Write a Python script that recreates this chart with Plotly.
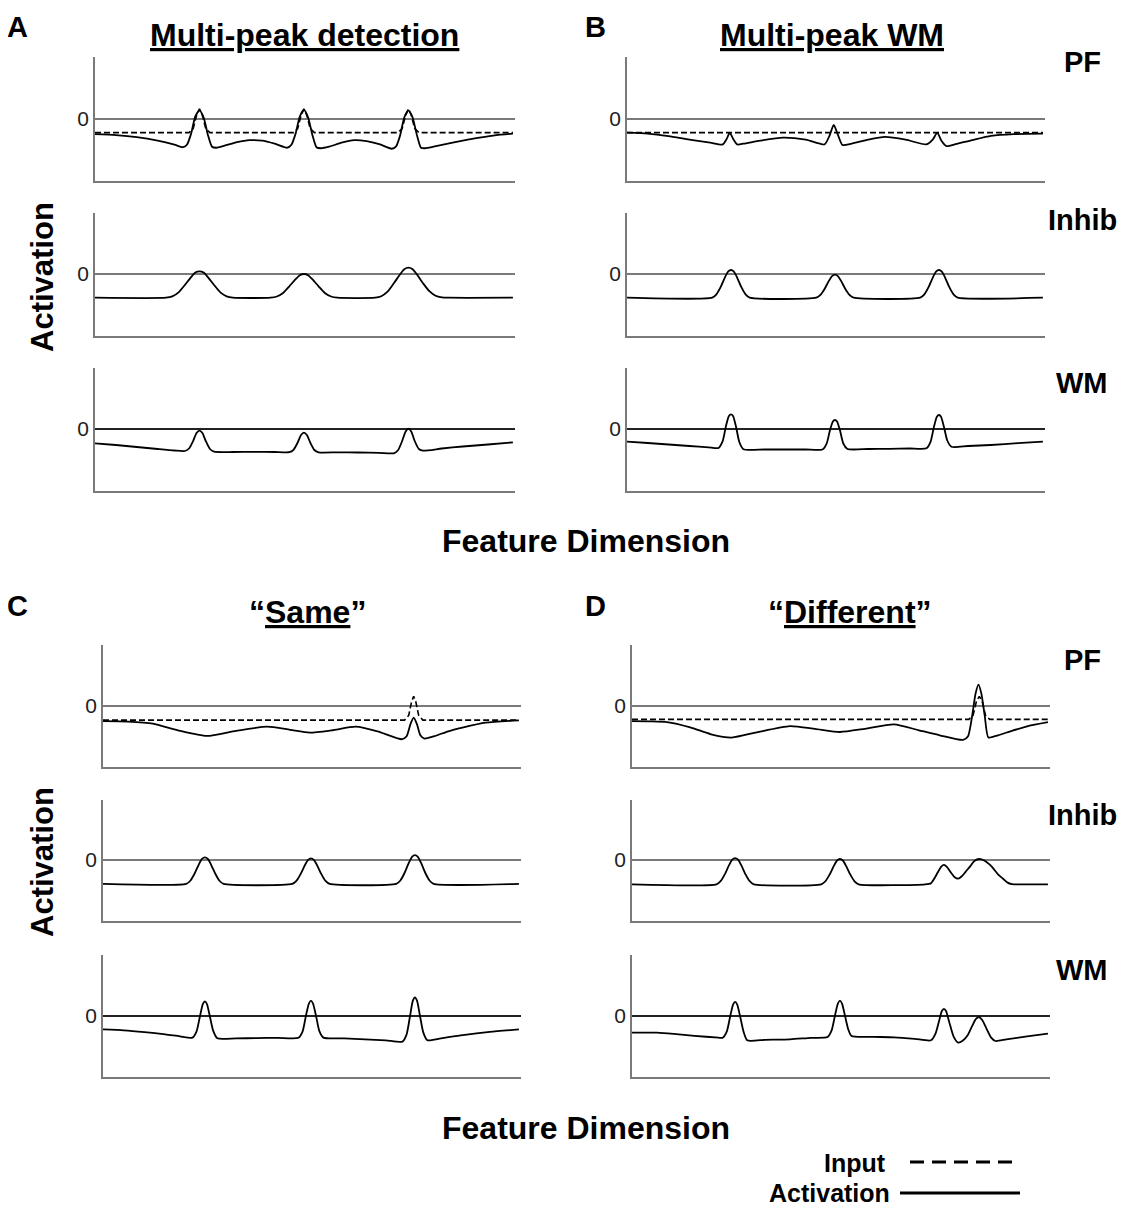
import plotly.graph_objects as go

# ---------------- data (feature dimension 0..100, activation units) ----------------
A_PF_x = [0, 5, 10, 15, 19, 21, 22, 23, 24, 25, 26, 27, 28, 29, 31, 34, 37, 40, 43, 46, 47, 48, 49, 50, 51, 52, 53, 54, 56, 59, 62, 65, 68, 71, 72, 73, 74, 75, 76, 77, 78, 79, 81, 85, 88, 92, 96, 100]
A_PF_act = [-1.55, -1.65, -1.85, -2.2, -2.6, -2.85, -2.6, -1.5, 0.2, 0.8, 0.1, -1.6, -2.8, -2.9, -2.7, -2.35, -2.15, -2.2, -2.5, -2.9, -2.6, -1.5, 0.2, 0.85, 0.1, -1.6, -2.85, -2.95, -2.8, -2.4, -2.15, -2.25, -2.55, -3.0, -2.8, -1.7, 0.1, 0.8, 0.1, -1.6, -2.9, -2.95, -2.8, -2.45, -2.2, -1.9, -1.65, -1.5]
A_PF_in_x = [0, 22.5, 23.5, 24.3, 25, 25.7, 26.5, 27.5, 47.5, 48.5, 49.3, 50, 50.7, 51.5, 52.5, 72.5, 73.5, 74.3, 75, 75.7, 76.5, 77.5, 100]
A_PF_in = [-1.4, -1.4, -1.0, 0.3, 0.95, 0.3, -1.0, -1.4, -1.4, -1.0, 0.3, 0.95, 0.3, -1.0, -1.4, -1.4, -1.0, 0.3, 0.95, 0.3, -1.0, -1.4, -1.4]

A_INH_x = [0, 17, 18.5, 20, 21.5, 23, 24, 25, 26, 27, 28.5, 30, 31.5, 33, 42, 43.5, 45, 46.5, 48, 49, 50, 51, 52, 53.5, 55, 56.5, 58, 67, 68.5, 70, 71.5, 73, 74, 75, 76, 77, 78.5, 80, 81.5, 83, 84.5, 100]
A_INH = [-2.37,
         -2.37, -2.24, -1.84, -1.10, -0.31, 0.14, 0.27, 0.14, -0.31, -1.10, -1.84, -2.24, -2.37,
         -2.37, -2.25, -1.90, -1.23, -0.52, -0.12, 0.0, -0.12, -0.52, -1.23, -1.90, -2.25, -2.37,
         -2.37, -2.22, -1.77, -0.93, -0.03, 0.48, 0.63, 0.48, -0.03, -0.93, -1.72, -2.17, -2.33,
         -2.37, -2.37]

A_WM_x = [0, 5, 10, 15, 19, 21.5, 22.5, 23.5, 24.3, 25, 25.7, 26.5, 27.5, 28.5, 33, 38, 43, 46.5, 47.5, 48.5, 49.3, 50, 50.7, 51.5, 52.5, 53.5, 58, 63, 68, 71.5, 72.5, 73.5, 74.3, 75, 75.7, 76.5, 77.5, 78.5, 83, 88, 94, 100]
A_WM = [-1.43, -1.6, -1.8, -2.0, -2.15, -2.2, -1.95, -1.18, -0.4, -0.17, -0.4, -1.2, -2.0, -2.27, -2.3, -2.28, -2.3, -2.32, -2.08, -1.35, -0.6, -0.37, -0.6, -1.35, -2.1, -2.33, -2.33, -2.35, -2.38, -2.43, -2.13, -1.2, -0.27, 0.03, -0.27, -1.2, -2.0, -2.17, -1.95, -1.75, -1.55, -1.33]

B_PF_x = [0, 5, 10, 15, 20, 23, 24, 24.7, 25.5, 26.5, 28, 32, 37.5, 43, 47.5, 48.7, 49.7, 50.7, 51.8, 54, 58, 62, 67, 72, 73.5, 74.6, 75.6, 76.8, 79, 83, 87.5, 93, 100]
B_PF_act = [-1.4, -1.5, -1.75, -2.1, -2.4, -2.57, -2.0, -1.4, -2.0, -2.57, -2.5, -2.2, -1.9, -2.1, -2.57, -1.7, -0.63, -1.6, -2.63, -2.5, -2.1, -1.83, -2.1, -2.57, -2.1, -1.4, -2.2, -2.73, -2.55, -2.15, -1.73, -1.55, -1.5]
B_PF_in_x = [0, 100]
B_PF_in = [-1.4, -1.4]

B_INH_x = [0, 20.5, 21.5, 22.5, 23.5, 24.3, 25, 25.7, 26.5, 27.5, 28.5, 29.5,
           45.5, 46.5, 47.5, 48.5, 49.3, 50, 50.7, 51.5, 52.5, 53.5, 54.5,
           70.5, 71.5, 72.5, 73.5, 74.3, 75, 75.7, 76.5, 77.5, 78.5, 79.5, 100]
B_INH = [-2.37,
         -2.37, -2.04, -1.32, -0.38, 0.23, 0.4, 0.23, -0.38, -1.32, -2.04, -2.37,
         -2.37, -2.09, -1.50, -0.71, -0.21, -0.07, -0.21, -0.71, -1.50, -2.09, -2.37,
         -2.37, -2.04, -1.32, -0.38, 0.23, 0.4, 0.23, -0.38, -1.32, -2.04, -2.37,
         -2.37]

B_WM_x = [0, 5, 10, 15, 19.6, 22, 23, 23.8, 24.5, 25, 25.5, 26.2, 27, 28, 33, 38, 43, 47, 48, 48.8, 49.5, 50, 50.5, 51.2, 52, 53, 58, 63, 68, 72, 73, 73.8, 74.5, 75, 75.5, 76.2, 77, 78, 82, 87.5, 94, 100]
B_WM = [-1.27, -1.4, -1.55, -1.7, -1.83, -1.9, -1.22, 0.3, 1.3, 1.47, 1.3, 0.25, -1.3, -2.03, -2.05, -2.05, -2.05, -2.05, -1.46, -0.13, 0.75, 0.9, 0.75, -0.13, -1.45, -2.0, -2.0, -1.98, -1.95, -1.93, -1.26, 0.22, 1.23, 1.4, 1.23, 0.22, -1.15, -1.77, -1.7, -1.6, -1.42, -1.27]

C_PF_x = [0, 6, 12, 18, 25, 32, 39.5, 45, 49.7, 55, 60.8, 66, 71.9, 73, 73.9, 74.7, 75.5, 76.3, 77.3, 80, 83, 86.4, 92, 100]
C_PF_act = [-1.57, -1.62, -1.83, -2.5, -3.07, -2.55, -2.13, -2.45, -2.73, -2.5, -2.13, -2.6, -3.4, -3.1, -1.9, -1.23, -1.9, -3.0, -3.33, -3.05, -2.6, -2.23, -1.73, -1.5]
C_PF_in_x = [0, 72.5, 73.5, 74.2, 74.7, 75.2, 75.9, 76.9, 100]
C_PF_in = [-1.47, -1.47, -1.0, 0.4, 0.93, 0.4, -1.0, -1.47, -1.47]

C_INH_x = [0, 20, 21, 22, 23, 23.8, 24.5, 25.2, 26, 27, 28, 29,
           45.5, 46.5, 47.5, 48.5, 49.3, 50, 50.7, 51.5, 52.5, 53.5, 54.5,
           70.5, 71.5, 72.5, 73.5, 74.3, 75, 75.7, 76.5, 77.5, 78.5, 79.5, 100]
C_INH = [-2.43,
         -2.43, -2.11, -1.40, -0.49, 0.11, 0.27, 0.11, -0.49, -1.40, -2.11, -2.43,
         -2.43, -2.12, -1.44, -0.56, 0.01, 0.17, 0.01, -0.56, -1.44, -2.12, -2.43,
         -2.43, -2.08, -1.32, -0.32, 0.33, 0.5, 0.33, -0.32, -1.32, -2.08, -2.43,
         -2.43]

C_WM_x = [0, 5, 10, 15, 18.5, 21.5, 22.5, 23.3, 24, 24.5, 25, 25.7, 26.5, 27.5, 32, 37, 42, 47, 48, 48.8, 49.5, 50, 50.5, 51.2, 52, 53, 58, 63, 68, 72, 73, 73.8, 74.5, 75, 75.5, 76.2, 77, 78, 82, 86.5, 93, 100]
C_WM = [-1.4, -1.5, -1.68, -1.9, -2.1, -2.23, -1.6, -0.1, 1.15, 1.43, 1.15, -0.1, -1.55, -2.3, -2.3, -2.28, -2.25, -2.25, -1.6, 0.0, 1.2, 1.5, 1.2, 0.0, -1.55, -2.23, -2.3, -2.4, -2.5, -2.63, -1.9, -0.1, 1.5, 1.83, 1.5, 0.0, -1.7, -2.5, -2.25, -1.97, -1.65, -1.4]

D_PF_x = [0, 4, 8.4, 14, 19, 24, 30, 38, 44, 50, 56, 63, 69, 74, 79.6, 80.8, 81.8, 82.6, 83.3, 84, 84.8, 85.7, 88, 91, 95.2, 100]
D_PF_act = [-1.57, -1.6, -1.67, -2.2, -2.9, -3.23, -2.7, -2.07, -2.35, -2.67, -2.35, -1.9, -2.5, -3.0, -3.47, -3.1, -1.0, 1.2, 2.1, 1.2, -1.0, -3.23, -3.0, -2.6, -2.07, -1.67]
D_PF_in_x = [0, 81, 82, 82.8, 83.5, 84.2, 85, 86, 100]
D_PF_in = [-1.4, -1.4, -1.0, 0.4, 0.93, 0.4, -1.0, -1.4, -1.4]

D_INH_x = [0, 20.3, 21.3, 22.3, 23.3, 24.1, 24.8, 25.5, 26.3, 27.3, 28.3, 29.3,
           45.5, 46.5, 47.5, 48.5, 49.3, 50, 50.7, 51.5, 52.5, 53.5, 54.5,
           70.5, 71.9, 72.8, 73.6, 74.4, 75, 75.7, 76.6, 77.6, 78.4, 79.3, 80.2, 81.2, 82.3, 83.5,
           84.7, 85.8, 86.6, 88, 89.2, 90.3, 91.3, 92, 100]
D_INH = [-2.47,
         -2.47, -2.15, -1.46, -0.55, 0.04, 0.2, 0.04, -0.55, -1.46, -2.15, -2.47,
         -2.47, -2.16, -1.49, -0.62, -0.05, 0.1, -0.05, -0.62, -1.49, -2.16, -2.47,
         -2.47, -2.35, -1.8, -1.2, -0.65, -0.5, -0.7, -1.23, -1.75, -1.9, -1.65, -1.2, -0.7, -0.1, 0.1,
         -0.05, -0.4, -0.73, -1.45, -1.9, -2.3, -2.45, -2.47, -2.47]

D_WM_x = [0, 6, 10, 15, 20.8, 21.8, 22.8, 23.6, 24.3, 24.8, 25.3, 26, 26.8, 27.7, 32, 38, 43, 47, 48, 48.8, 49.5, 50, 50.5, 51.2, 52, 52.8, 58, 63, 68, 71.9, 73, 73.8, 74.5, 75, 75.5, 76.3, 77.3, 78.4, 79.5, 80.7, 81.8, 82.7, 83.4, 84.2, 85.2, 86.3, 87.4, 90, 95, 100]
D_WM = [-1.73, -1.73, -1.85, -2.05, -2.23, -2.25, -1.6, -0.1, 1.1, 1.37, 1.1, -0.1, -1.6, -2.5, -2.45, -2.4, -2.25, -2.17, -1.5, 0.0, 1.2, 1.5, 1.2, 0.0, -1.4, -2.07, -2.15, -2.2, -2.35, -2.5, -1.8, -0.6, 0.45, 0.67, 0.45, -0.7, -2.1, -2.73, -2.55, -2.0, -1.05, -0.35, -0.17, -0.45, -1.3, -2.2, -2.57, -2.4, -2.1, -1.83]

panel_titles = {"A": "<u>Multi-peak detection</u>", "B": "<u>Multi-peak WM</u>",
                "C": "\u201c<u>Same</u>\u201d", "D": "\u201c<u>Different</u>\u201d"}
row_labels = ["PF", "Inhib", "WM"]
zero_tick = ["0"]

series = {
    "A": [(A_PF_x, A_PF_act, A_PF_in_x, A_PF_in), (A_INH_x, A_INH, None, None), (A_WM_x, A_WM, None, None)],
    "B": [(B_PF_x, B_PF_act, B_PF_in_x, B_PF_in), (B_INH_x, B_INH, None, None), (B_WM_x, B_WM, None, None)],
    "C": [(C_PF_x, C_PF_act, C_PF_in_x, C_PF_in), (C_INH_x, C_INH, None, None), (C_WM_x, C_WM, None, None)],
    "D": [(D_PF_x, D_PF_act, D_PF_in_x, D_PF_in), (D_INH_x, D_INH, None, None), (D_WM_x, D_WM, None, None)],
}

# ---------------- layout geometry (page pixels; page body has an 8px margin) ----------------
OFF = 8
W, H = 1128 - OFF, 1210 - OFF
def fx(p): return (p - OFF) / W
def fy(p): return 1 - (p - OFF) / H

panel_x = {"A": (95, 515), "B": (627, 1045), "C": (103, 521), "D": (632, 1050)}
rows_px = {"A": [(57, 181), (213, 336), (368, 491)],
           "B": [(57, 181), (213, 336), (368, 491)],
           "C": [(645, 767), (800, 921), (955, 1077)],
           "D": [(645, 767), (800, 921), (955, 1077)]}

FONT = "Liberation Sans, Arial, sans-serif"
AXIS_GREY = "#7a7a7a"

fig = go.Figure()
layout = {}
k = 0
for p in ["A", "B", "C", "D"]:
    for r in range(3):
        k += 1
        xs, ys, xi, yi = series[p][r]
        xa = "x" if k == 1 else f"x{k}"
        ya = "y" if k == 1 else f"y{k}"
        if xi is not None:
            fig.add_trace(go.Scatter(x=xi, y=yi, mode="lines", xaxis=xa, yaxis=ya,
                                     line=dict(color="black", width=1.6, dash="6px,3px"),
                                     showlegend=False, hoverinfo="skip"))
        fig.add_trace(go.Scatter(x=xs, y=ys, mode="lines", xaxis=xa, yaxis=ya,
                                 line=dict(color="black", width=1.8, shape="spline", smoothing=0.6),
                                 showlegend=False, hoverinfo="skip"))
        x0, x1 = panel_x[p]
        top, bot = rows_px[p][r]
        layout["xaxis" if k == 1 else f"xaxis{k}"] = dict(
            domain=[fx(x0), fx(x1)], range=[0, 100.5], anchor=ya,
            showline=True, linecolor=AXIS_GREY, linewidth=1.5,
            showgrid=False, zeroline=False, showticklabels=False, ticks="", fixedrange=True)
        layout["yaxis" if k == 1 else f"yaxis{k}"] = dict(
            domain=[fy(bot), fy(top)], range=[-6.2, 6.1], anchor=xa,
            showline=True, linecolor=AXIS_GREY, linewidth=1.5,
            showgrid=False, zeroline=True,
            zerolinecolor=("#222222" if r == 2 else AXIS_GREY), zerolinewidth=1.5,
            tickmode="array", tickvals=[0], ticktext=zero_tick, ticks="",
            tickfont=dict(family=FONT, size=21, color="#222222"), fixedrange=True)

ann = []
def text(x, y, s, size=30, xanchor="center", yanchor="middle", angle=0):
    ann.append(dict(x=fx(x), y=fy(y), xref="paper", yref="paper", text=s, showarrow=False,
                    xanchor=xanchor, yanchor=yanchor, textangle=angle,
                    font=dict(family=FONT, size=size, color="black")))

# panel letters and titles
text(5, 8.5, "<b>A</b>", 29, xanchor="left", yanchor="top")
text(583, 8.5, "<b>B</b>", 29, xanchor="left", yanchor="top")
text(5, 606, "<b>C</b>", 29, xanchor="left")
text(583, 606, "<b>D</b>", 29, xanchor="left")
text(304, 35, "<b>" + panel_titles["A"] + "</b>", 32)
text(832, 35, "<b>" + panel_titles["B"] + "</b>", 32)
text(307, 612, "<b>" + panel_titles["C"] + "</b>", 32)
text(850, 612, "<b>" + panel_titles["D"] + "</b>", 32)

# row labels
for yy, lab in zip([62, 220, 383], row_labels):
    text(1082, yy, "<b>" + lab + "</b>", 29)
for yy, lab in zip([660, 815, 970], row_labels):
    text(1082, yy, "<b>" + lab + "</b>", 29)

# axis titles
text(42, 277, "<b>Activation</b>", 31, angle=-90)
text(42, 862, "<b>Activation</b>", 31, angle=-90)
text(586, 541, "<b>Feature Dimension</b>", 32)
text(586, 1128, "<b>Feature Dimension</b>", 32)

# legend
text(888, 1163, "<b>Input</b>", 25, xanchor="right")
text(892, 1193, "<b>Activation</b>", 25, xanchor="right")
shapes = [
    dict(type="line", xref="paper", yref="paper", x0=fx(910), x1=fx(1012), y0=fy(1162), y1=fy(1162),
         line=dict(color="black", width=3, dash="14px,8px")),
    dict(type="line", xref="paper", yref="paper", x0=fx(900), x1=fx(1020), y0=fy(1193), y1=fy(1193),
         line=dict(color="black", width=3)),
]

fig.update_layout(**layout)
fig.update_layout(width=W, height=H, margin=dict(l=0, r=0, t=0, b=0),
                  paper_bgcolor="white", plot_bgcolor="white",
                  annotations=ann, shapes=shapes, showlegend=False,
                  font=dict(family=FONT))
fig.write_html("out.html")
